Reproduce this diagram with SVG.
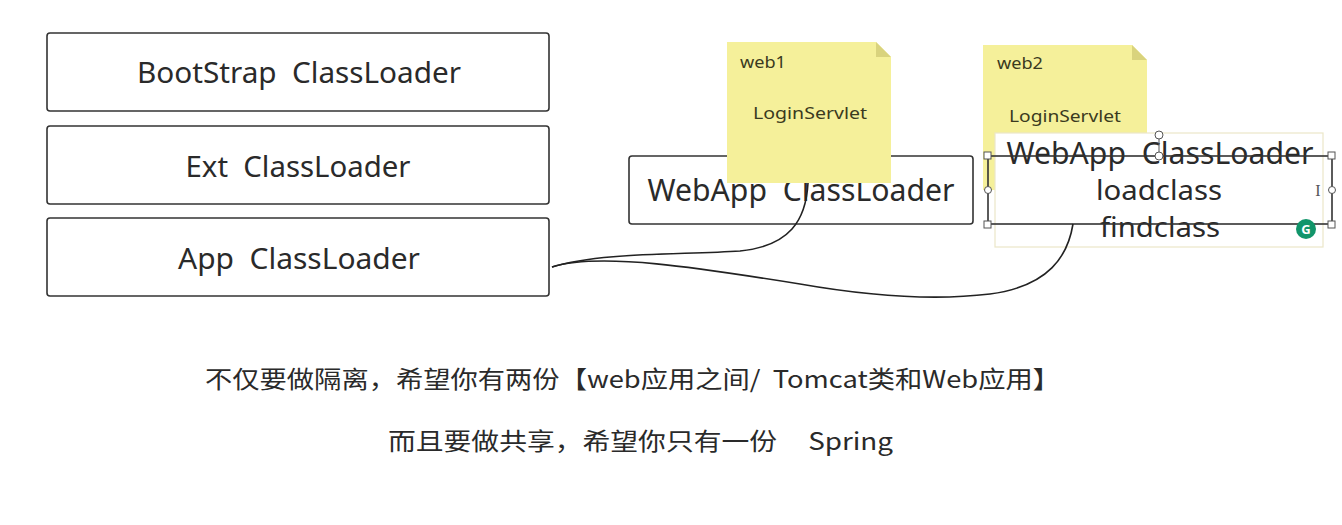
<svg xmlns="http://www.w3.org/2000/svg" width="1342" height="525" viewBox="0 0 1342 525" xml:space="preserve">
<style>
.box{fill:#fff;stroke:#333;stroke-width:1.6}
.t{font-family:"Noto Sans","Open Sans","Noto Sans CJK SC",sans-serif;fill:#2a2a2a;text-anchor:middle;white-space:pre}
.big{font-size:29px}
.web{font-size:30px}
.note{fill:#f5f09a}
.fold{fill:#d9d37d}
.nt{font-family:"Noto Sans","Open Sans",sans-serif;font-size:17px;fill:#3a3a20}
.conn{fill:none;stroke:#222;stroke-width:1.6}
.h{fill:#fff;stroke:#555;stroke-width:1}
.cn{font-family:"Noto Sans CJK SC","Noto Sans",sans-serif;font-size:24px;fill:#2a2a2a;white-space:pre}
</style>
<rect width="1342" height="525" fill="#fff"/>
<g id="bootstrap"><rect class="box" x="47" y="33" width="502" height="78" rx="3"/><text class="t big" x="299" y="83" textLength="324" lengthAdjust="spacingAndGlyphs">BootStrap  ClassLoader</text></g>
<g id="ext"><rect class="box" x="47" y="126" width="502" height="78" rx="3"/><text class="t big" x="298" y="177" textLength="225" lengthAdjust="spacingAndGlyphs">Ext  ClassLoader</text></g>
<g id="app"><rect class="box" x="47" y="218" width="502" height="78" rx="3"/><text class="t big" x="299" y="269" textLength="242" lengthAdjust="spacingAndGlyphs">App  ClassLoader</text></g>
<g id="webapp1"><rect class="box" x="629" y="156" width="344" height="68" rx="3"/><text class="t web" x="801" y="201" textLength="307" lengthAdjust="spacingAndGlyphs">WebApp  ClassLoader</text></g>
<g id="note2"><path class="note" d="M983,45 H1132 L1147,60 V190 H983 Z"/><path class="fold" d="M1132,45 L1147,60 H1132 Z"/><text class="nt" x="997" y="69" textLength="46" lengthAdjust="spacingAndGlyphs">web2</text><text class="nt" x="1009" y="122" font-size="18" textLength="112" lengthAdjust="spacingAndGlyphs">LoginServlet</text></g>
<g id="webapp2">
<rect x="995" y="133" width="328" height="114" fill="#fff" stroke="#ebe7c8" stroke-width="1.2"/>
<text class="t web" x="1160" y="164" textLength="307" lengthAdjust="spacingAndGlyphs">WebApp  ClassLoader</text>
<text class="t" x="1159" y="200" font-size="27" textLength="126" lengthAdjust="spacingAndGlyphs">loadclass</text>
<text class="t" x="1160" y="237" font-size="28" textLength="120" lengthAdjust="spacingAndGlyphs">findclass</text>
<rect x="988" y="156" width="344" height="68" fill="none" stroke="#333" stroke-width="1.6"/>
<line x1="1159" y1="138" x2="1159" y2="156" stroke="#555" stroke-width="1"/>
<circle class="h" cx="1159" cy="135" r="4"/>
<circle class="h" cx="1159" cy="156" r="4"/>
<rect class="h" x="984" y="152" width="7" height="7"/>
<rect class="h" x="1328" y="152" width="7" height="7"/>
<rect class="h" x="984" y="221" width="7" height="7"/>
<rect class="h" x="1328" y="221" width="7" height="7"/>
<circle class="h" cx="988" cy="190" r="3.5"/>
<circle class="h" cx="1332" cy="190" r="3.5"/>
<text x="1318" y="196" font-family="Liberation Serif,serif" font-size="16" fill="#555" text-anchor="middle">I</text>
<circle cx="1306" cy="229" r="10" fill="#11956a"/>
<text x="1306" y="234" font-family="Noto Sans,sans-serif" font-size="13" font-weight="bold" fill="#fff" text-anchor="middle">G</text>
</g>
<g id="connectors">
<path class="conn" d="M552,267 C600,252 680,255 740,251 C790,246 806,220 808,183"/>
<path class="conn" d="M552,267 C600,252 700,268 800,284 C880,298 940,300 990,294 C1050,286 1068,255 1073,224"/>
</g>
<g id="note1"><path class="note" d="M727,42 H876 L891,57 V183 H727 Z"/><path class="fold" d="M876,42 L891,57 H876 Z"/><text class="nt" x="740" y="68" textLength="46" lengthAdjust="spacingAndGlyphs">web1</text><text class="nt" x="753" y="119" font-size="18" textLength="114" lengthAdjust="spacingAndGlyphs">LoginServlet</text></g>
<g id="captions">
<text class="cn" x="205" y="388" textLength="855" lengthAdjust="spacingAndGlyphs">不仅要做隔离，希望你有两份【web应用之间/  Tomcat类和Web应用】</text>
<text class="cn" x="388" y="450" textLength="505" lengthAdjust="spacingAndGlyphs">而且要做共享，希望你只有一份     Spring</text>
</g>
</svg>
